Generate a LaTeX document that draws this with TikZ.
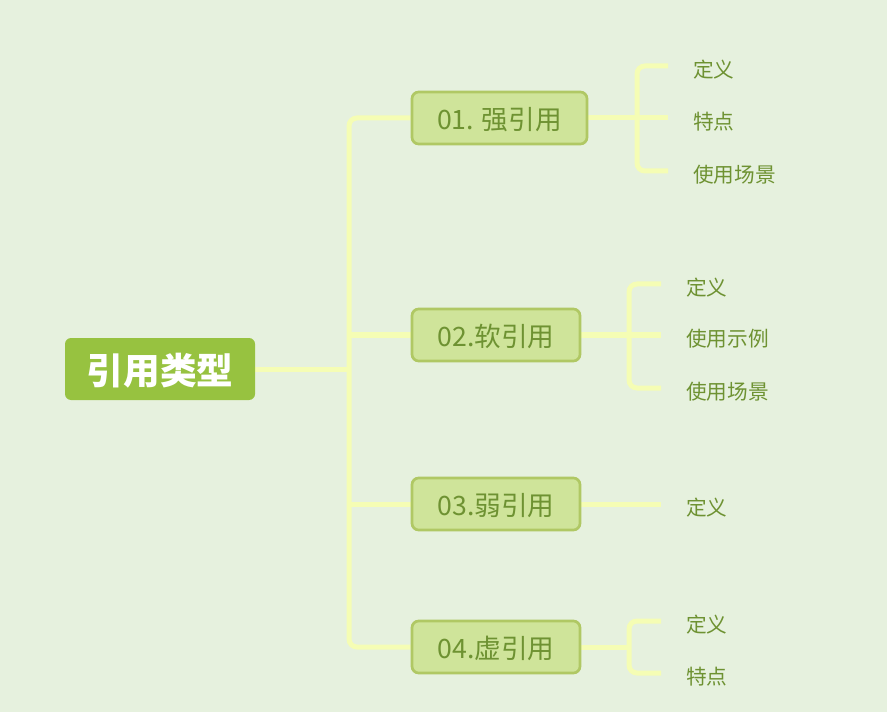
\documentclass[tikz,border=0pt]{standalone}
\usepackage{fontspec}
\setmainfont{Noto Sans CJK SC}
\usetikzlibrary{backgrounds}
\definecolor{bgc}{RGB}{230,241,222}
\definecolor{rootc}{RGB}{151,194,64}
\definecolor{brfill}{RGB}{207,228,154}
\definecolor{brdraw}{RGB}{176,200,100}
\definecolor{txtc}{RGB}{110,146,50}
\definecolor{linec}{RGB}{245,253,180}
\begin{document}
\begin{tikzpicture}[x=0.75pt,y=-0.75pt,
  rootbox/.style={fill=rootc, rounded corners=4.5pt, minimum width=142.5pt, minimum height=46.5pt, text=white, font=\fontsize{27.5}{30}\selectfont\bfseries, inner sep=0pt, text height=25pt, text depth=1.2pt},
  brbox/.style={fill=brfill, draw=brdraw, line width=2pt, rounded corners=5pt, minimum height=39pt, text=txtc, font=\fontsize{20}{24}\selectfont, inner sep=0pt, text height=18.8pt, text depth=1.2pt},
  leaf/.style={anchor=west, text=txtc, font=\fontsize{15.5}{18}\selectfont, inner xsep=18.75pt, inner ysep=0pt, text height=18pt, text depth=1.2pt},
  conn/.style={draw=linec, line width=3.75pt},
  rc/.style={rounded corners=6pt}]
\useasboundingbox (0,0) rectangle (887,712);
\coordinate (s1) at (349,118);
\coordinate (s4) at (349,647);
\coordinate (k1) at (637,118);
\coordinate (k2) at (629,335);
\coordinate (k4) at (629,647);
\node[rootbox] (root) at (160,369) {引用类型};
\node[brbox, minimum width=131.25pt] (b1) at (499.5,118) {01. 强引用};
\node[brbox, minimum width=126pt] (b2) at (496,335) {02.软引用};
\node[brbox, minimum width=126pt] (b3) at (496,504) {03.弱引用};
\node[brbox, minimum width=126pt] (b4) at (496,647) {04.虚引用};
\node[leaf] (l11) at (668,66) {定义};
\node[leaf] (l12) at (668,118) {特点};
\node[leaf] (l13) at (668,171) {使用场景};
\node[leaf] (l21) at (661,284) {定义};
\node[leaf] (l22) at (661,335) {使用示例};
\node[leaf] (l23) at (661,388) {使用场景};
\node[leaf] (l31) at (661,504) {定义};
\node[leaf] (l41) at (661,621) {定义};
\node[leaf] (l42) at (661,673) {特点};
\begin{scope}[on background layer]
\fill[bgc] (0,0) rectangle (887,712);
\draw[conn, rc] (b1.west) -- (s1) -- (s4) -- (b4.west);
\draw[conn] (root.east) -- (root.east -| s1);
\draw[conn] (b2.west) -- (b2.west -| s1);
\draw[conn] (b3.west) -- (b3.west -| s1);
\draw[conn] (b1.east) -- (k1);
\draw[conn, rc] (l11.west) -| (k1) |- (l13.west);
\draw[conn] (k1) -- (l12.west);
\draw[conn] (b2.east) -- (k2);
\draw[conn, rc] (l21.west) -| (k2) |- (l23.west);
\draw[conn] (k2) -- (l22.west);
\draw[conn] (b3.east) -- (l31.west);
\draw[conn] (b4.east) -- (k4);
\draw[conn, rc] (l41.west) -| (k4) |- (l42.west);
\end{scope}
\end{tikzpicture}
\end{document}
